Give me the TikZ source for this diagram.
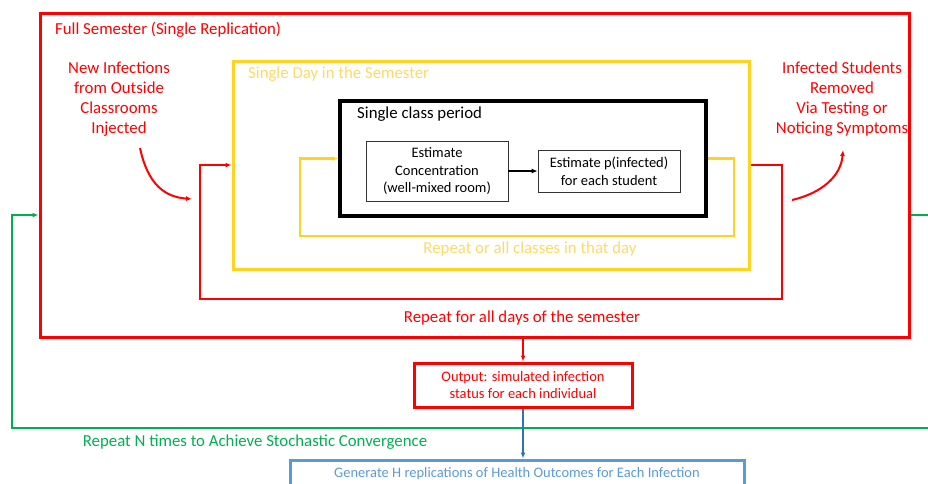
\documentclass[tikz,border=0pt]{standalone}
\usepackage{fontspec}
\setmainfont{Carlito}
\usetikzlibrary{arrows.meta, positioning}
\tikzset{>={Latex[length=6pt,width=5pt]}}
\definecolor{myred}{HTML}{FF0000}
\definecolor{myyellow}{HTML}{FFD320}
\definecolor{mylightyellow}{HTML}{FFD966}
\definecolor{mygreen}{HTML}{00B050}
\definecolor{myblue}{HTML}{5B9BD5}
\definecolor{mydarkblue}{HTML}{2E75B6}
\tikzset{
  bigbox/.style={draw, inner sep=0, line width=3pt},
  boxfont/.style={font=\fontsize{14.5}{17.7}\selectfont},
  stepbox/.style={draw=black!80, line width=0.8pt, align=center, boxfont},
  biglabel/.style={font=\fontsize{16.8}{20}\selectfont, align=center, inner sep=0},
}

\begin{document}
\begin{tikzpicture}[x=1pt, y=-1pt]
		\useasboundingbox (0,0) rectangle (928,483);
		\node[bigbox, myred, minimum width=869pt, minimum height=324pt] (semester) at (474.5,175) {};
		\node[bigbox, myyellow, minimum width=516pt, minimum height=208pt] (day) at (491,165) {};
		\node[bigbox, black, line width=3.5pt, minimum width=366pt, minimum height=115pt] (period) at (523,158.5) {};
		\node[stepbox, minimum width=142pt, minimum height=60pt, inner sep=0] (conc) at (437,171) {Estimate\\Concentration\\(well-mixed room)};
		\node[stepbox, minimum width=142pt, minimum height=42pt, inner sep=0] (pinf) at (609,171) {Estimate p(infected)\\for each student};
		\node[bigbox, myred, minimum width=218pt, minimum height=44pt, align=center, boxfont, text=myred] (output) at (523,385) {Output: simulated infection\\status for each individual};
		\node[bigbox, myblue, minimum width=454pt, minimum height=28pt, boxfont, text=myblue] (health) at (517,474) {Generate H replications of Health Outcomes for Each Infection};
		
		\node[biglabel, myred, anchor=west] (semtitle) at (55,30) {Full Semester (Single Replication)};
		\node[biglabel, mylightyellow, anchor=west] (daytitle) at (248,74) {Single Day in the Semester};
		\node[biglabel, black, anchor=west] (pertitle) at (357,114) {Single class period};
		\node[biglabel, myred] (inject) at (119,99) {New Infections\\from Outside\\Classrooms\\Injected};
		\node[biglabel, myred] (removed) at (842,99) {Infected Students\\Removed\\Via Testing or\\Noticing Symptoms};
		\node[biglabel, mylightyellow] (dayrep) at (530,249) {Repeat or all classes in that day};
		\node[biglabel, myred] (semrep) at (522,318) {Repeat for all days of the semester};
		\node[biglabel, mygreen] (nrep) at (255,442) {Repeat N times to Achieve Stochastic Convergence};
		
		\coordinate (dayloop1) at (734,236);
		\coordinate (dayloop2) at (300,236);
		\coordinate (semloop1) at (782,299);
		\coordinate (semloop2) at (200,299);
		\coordinate (nloop0) at (936,215);
		\coordinate (nloop1) at (936,428);
		\coordinate (nloop2) at (12,428);
		\coordinate (inj1) at (140,148);
		\coordinate (inj2) at (192,199);
		\coordinate (rem1) at (792,200);
		\coordinate (rem2) at (843,150);
		
		\draw[->, line width=1.4pt] (conc) -- (pinf);
		\draw[->, myyellow, line width=2.2pt] (period.east) -| (dayloop1) -- (dayloop2) |- (period.west);
		\draw[->, myred, line width=2pt] (day.east) -| (semloop1) -- (semloop2) |- (day.west);
		\draw[->, mygreen, line width=2pt] (semester.east |- nloop0) -- (nloop0) -- (nloop1) -- (nloop2) |- (semester.west |- nloop0);
		\draw[->, myred, line width=2pt] (output.north |- semester.south) -- (output.north);
		\draw[->, mydarkblue, line width=1.6pt] (output.south) -- (output.south |- health.north);
		\draw[->, myred, line width=2pt] (inj1) .. controls (148,185) and (165,197) .. (inj2);
		\draw[->, myred, line width=2pt] (rem1) .. controls (822,193) and (841,176) .. (rem2);
	\end{tikzpicture}
\end{document}
